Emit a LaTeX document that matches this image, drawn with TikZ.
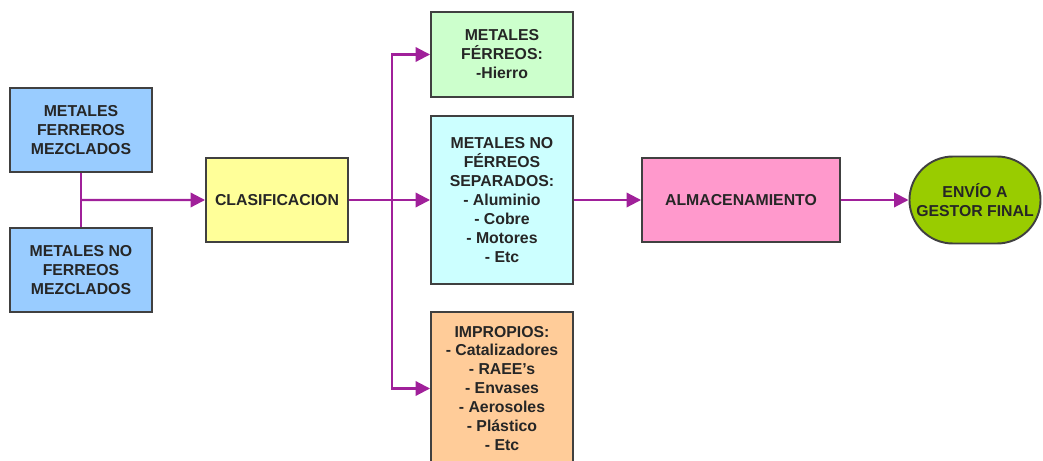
\documentclass[tikz,border=0pt]{standalone}
\usepackage{fontspec}
\setmainfont{Liberation Sans}
\usetikzlibrary{positioning,calc,arrows.meta,shapes.misc}
\definecolor{flowPurple}{HTML}{A0209A}
\definecolor{boxLine}{HTML}{404040}
\definecolor{fillBlue}{HTML}{99CCFF}
\definecolor{fillYellow}{HTML}{FFFF99}
\definecolor{fillGreen}{HTML}{CCFFCC}
\definecolor{fillCyan}{HTML}{CCFFFF}
\definecolor{fillOrange}{HTML}{FFCC99}
\definecolor{fillPink}{HTML}{FF99CC}
\definecolor{fillLime}{HTML}{99CC00}

\tikzset{
  procbox/.style={draw=boxLine, line width=1.1pt, align=center,
    font=\fontsize{9}{10.8}\selectfont\bfseries, text=black!85,
    minimum width=2.84cm, minimum height=1.68cm, inner sep=2pt},
  endbox/.style={procbox, rounded rectangle, minimum width=2.6cm,
    minimum height=1.74cm},
  flow/.style={draw=flowPurple, line width=1.2pt,
    -{Triangle[length=2.9mm, width=2.9mm]}},
  plainflow/.style={draw=flowPurple, line width=1.2pt}
}

\begin{document}
\begin{tikzpicture}

% --- PAGE: fixed frame, orange box runs past the bottom ---
\useasboundingbox (0,0) rectangle (20.86,9.2);
\clip (0,0) rectangle (20.86,9.2);

% --- INPUTS (left) ---
\node[procbox, fill=fillBlue] (ferMez) at (1.62,6.6)
  {METALES\\FERREROS\\MEZCLADOS};
\node[procbox, fill=fillBlue] (noFerMez) at (1.62,3.8)
  {METALES NO\\FERREOS\\MEZCLADOS};

% --- SORTING ---
\node[procbox, fill=fillYellow] (clasif) at (5.54,5.2) {CLASIFICACION};

% --- SORTED FRACTIONS ---
\node[procbox, fill=fillGreen, minimum height=1.7cm] (ferSep) at (10.04,8.11)
  {METALES\\FÉRREOS:\\-Hierro};
\node[procbox, fill=fillCyan, minimum height=3.36cm] (noFerSep) at (10.04,5.2)
  {METALES NO\\FÉRREOS\\SEPARADOS:\\- Aluminio\\- Cobre\\- Motores\\- Etc};
\node[procbox, fill=fillOrange, minimum height=3.06cm] (improp) at (10.04,1.43)
  {IMPROPIOS:\\- Catalizadores\\- RAEE's\\- Envases\\- Aerosoles\\- Plástico\\- Etc};

% --- STORAGE + DISPATCH ---
\node[procbox, fill=fillPink, minimum width=3.96cm] (almac) at (14.82,5.2)
  {ALMACENAMIENTO};
\node[endbox, fill=fillLime] (envio) at (19.5,5.2)
  {ENVÍO A\\GESTOR FINAL};

% --- CONNECTORS ---
\coordinate (joinIn) at ($(ferMez.south)!0.5!(noFerMez.north)$);
\draw[plainflow] (ferMez.south) -- (noFerMez.north);
\draw[flow] (joinIn) -- (clasif.west);

\coordinate (split) at ($(clasif.east)!0.53!(noFerSep.west)$);
\draw[flow] (clasif.east) -- (noFerSep.west);
\draw[flow] (split) |- (ferSep.west);
\draw[flow] (split) |- (improp.west);

\draw[flow] (noFerSep.east) -- (almac.west);
\draw[flow] (almac.east) -- (envio.west);

\end{tikzpicture}
\end{document}
